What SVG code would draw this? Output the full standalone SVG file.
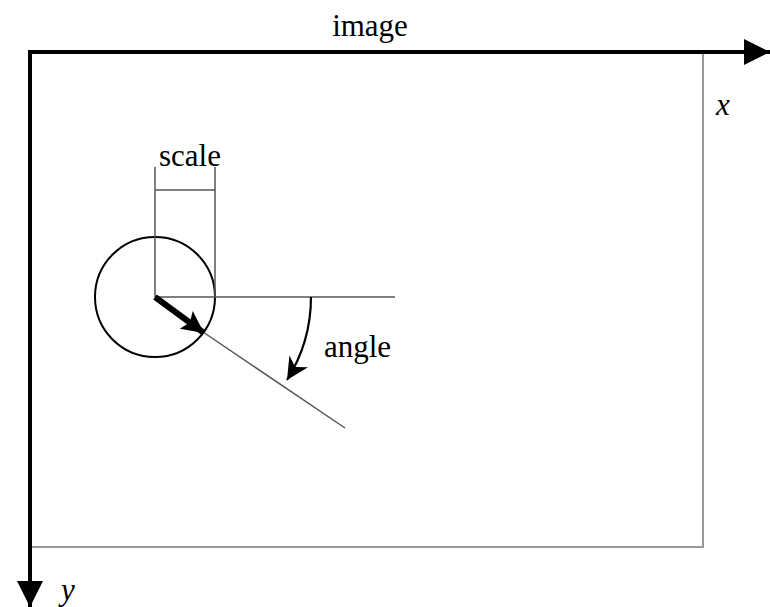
<svg xmlns="http://www.w3.org/2000/svg" width="770" height="607" viewBox="0 0 770 607">
<defs>
<style>
.lbl{font-family:"Liberation Serif","DejaVu Serif",serif;font-size:31px;fill:#000}
.it{font-style:italic}
.thin{stroke:#555;stroke-width:1.5;fill:none}
.gray{stroke:#999;stroke-width:2;fill:none}
.axis{stroke:#000;stroke-width:4;fill:none}
</style>
<marker id="big" viewBox="0 0 10 10" refX="10" refY="5" markerWidth="26" markerHeight="32" markerUnits="userSpaceOnUse" orient="auto"><path d="M0,0 L10,5 L0,10 z" fill="#000"/></marker>
<marker id="mid" viewBox="0 0 10 10" refX="10" refY="5" markerWidth="26" markerHeight="22" markerUnits="userSpaceOnUse" orient="auto"><path d="M0,0 L10,5 L0,10 L3,5 z" fill="#000"/></marker>
<marker id="heavy" viewBox="0 0 10 10" refX="10" refY="5" markerWidth="22" markerHeight="24" markerUnits="userSpaceOnUse" orient="auto"><path d="M0,0 L10,5 L0,10 L2,5 z" fill="#000"/></marker>
</defs>
<rect width="770" height="607" fill="#fff"/>
<g id="image-frame">
<polyline class="gray" points="30,52 703,52 703,547 30,547"/>
</g>
<g id="axes">
<line class="axis" x1="30" y1="52" x2="770" y2="52" marker-end="url(#big)"/>
<line class="axis" x1="30" y1="50" x2="30" y2="607" marker-end="url(#big)"/>
</g>
<g id="keypoint">
<circle cx="155" cy="297" r="60" fill="none" stroke="#000" stroke-width="2"/>
</g>
<g id="scale">
<line class="thin" x1="155" y1="167" x2="155" y2="297"/>
<line class="thin" x1="215" y1="167" x2="215" y2="297"/>
<line class="thin" x1="155" y1="190" x2="215" y2="190"/>
</g>
<g id="connectors">
<line class="thin" x1="155" y1="297" x2="395" y2="297"/>
<line class="thin" x1="203" y1="332" x2="345" y2="428"/>
<line x1="155" y1="297" x2="204" y2="333" stroke="#000" stroke-width="6" marker-end="url(#heavy)"/>
<path d="M311,297 A156,156 0 0 1 287,380" fill="none" stroke="#000" stroke-width="2.2" marker-end="url(#mid)"/>
</g>
<g id="labels">
<text class="lbl" x="370" y="36" text-anchor="middle">image</text>
<text class="lbl" x="190" y="166" text-anchor="middle">scale</text>
<text class="lbl" x="324" y="357">angle</text>
<text class="lbl it" x="716" y="115">x</text>
<text class="lbl it" x="61" y="600">y</text>
</g>
</svg>
